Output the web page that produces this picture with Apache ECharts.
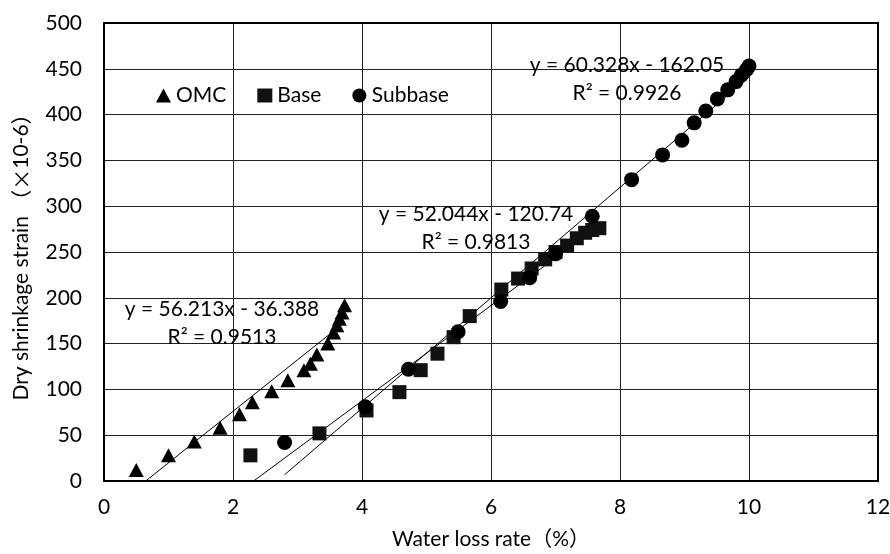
<!DOCTYPE html>
<html>
<head>
<meta charset="utf-8">
<title>Dry shrinkage strain vs water loss rate</title>
<script src="https://cdn.jsdelivr.net/npm/echarts@6/dist/echarts.min.js"></script>
<style>
  html, body { margin: 0; padding: 0; background: #fff; }
  #chart { width: 890px; height: 554px; }
</style>
</head>
<body>
<div id="chart"></div>
<script>
// water loss rate (%) / dry shrinkage strain (x10-6)
var omcX = [0.5, 1.0, 1.4, 1.8, 2.1, 2.3, 2.6, 2.85, 3.1, 3.2, 3.3, 3.47, 3.56, 3.61, 3.65, 3.69, 3.73];
var omcY = [12, 28, 43, 58, 73, 86, 98, 110, 121, 128, 138, 150, 162, 170, 177, 184, 192];

var baseX = [2.27, 3.34, 4.07, 4.58, 4.91, 5.17, 5.42, 5.67, 6.16, 6.42, 6.63, 6.84, 7.0, 7.18, 7.33, 7.46, 7.57, 7.68];
var baseY = [28, 52, 77, 97, 121, 139, 157, 180, 209, 221, 232, 242, 250, 257, 265, 271, 274, 276];

var subX = [2.8, 4.05, 4.72, 5.49, 6.15, 6.6, 7.0, 7.57, 8.18, 8.66, 8.96, 9.15, 9.33, 9.51, 9.67, 9.8, 9.88, 9.96, 10.0];
var subY = [42, 81, 122, 163, 196, 222, 248, 289, 329, 356, 372, 391, 404, 417, 427, 436, 443, 449, 453];

// linear trendline end points (from the equations shown)
var omcFit = [[0.647, 0], [3.73, 173.3]];
var baseFit = [[2.32, 0], [7.68, 279.0]];
var subFit = [[2.8, 6.9], [10.0, 441.2]];

var fitLabels = [
    ['y = 56.213x - 36.388', 'R² = 0.9513'],
    ['y = 52.044x - 120.74', 'R² = 0.9813'],
    ['y = 60.328x - 162.05', 'R² = 0.9926']
];

var xTicks = [0, 12, 2];
var yTicks = [0, 500, 50];

function pairs(xs, ys)
{
    var out = [];
    for (var i = 0; i < xs.length; i++)
    {
        out.push([xs[i], ys[i]]);
    }
    return out;
}

var font = 'Lato, "Noto Sans CJK SC", sans-serif';
var cjk = '"Noto Sans CJK SC", sans-serif';

function fitLine(pts)
{
    return {
        type: 'line',
        data: pts,
        symbol: 'none',
        silent: true,
        lineStyle: {color: '#000', width: 1},
        z: 1
    };
}

function fitText(lines, cx, cy)
{
    return [
        {type: 'text', x: cx, y: cy, style: {text: lines[0], font: '21px ' + font, fill: '#000', align: 'center', verticalAlign: 'middle'}, z: 10},
        {type: 'text', x: cx, y: cy + 28, style: {text: lines[1], font: '21px ' + font, fill: '#000', align: 'center', verticalAlign: 'middle'}, z: 10}
    ];
}

var myChart = echarts.init(document.getElementById('chart'));
var option = {
    backgroundColor: '#fff',
    animation: false,
    textStyle: {fontFamily: font},
    grid: {left: 104, top: 23, right: 12, bottom: 73, outerBoundsMode: 'none', containLabel: false},
    legend: {
        left: 151,
        top: 80,
        itemWidth: 15,
        itemHeight: 14,
        itemGap: 31,
        textStyle: {fontSize: 21, color: '#000', fontFamily: font},
        data: ['OMC', 'Base', 'Subbase']
    },
    xAxis: {
        type: 'value',
        min: xTicks[0],
        max: xTicks[1],
        interval: xTicks[2],
        name: 'Water loss rate（%）',
        nameLocation: 'middle',
        nameGap: 48,
        nameTextStyle: {fontSize: 21, color: '#000', fontFamily: font},
        axisLine: {show: true, lineStyle: {color: '#000', width: 2}},
        axisTick: {show: false},
        axisLabel: {fontSize: 21, color: '#000', margin: 16, fontFamily: font},
        splitLine: {show: true, lineStyle: {color: '#222', width: 1}}
    },
    yAxis: {
        type: 'value',
        min: yTicks[0],
        max: yTicks[1],
        interval: yTicks[2],
        name: '{a|Dry shrinkage strain }{b|（×}{a|10-6}{b|）}',
        nameLocation: 'middle',
        nameGap: 72,
        nameTextStyle: {
            fontSize: 21, color: '#000', fontFamily: font,
            rich: {
                a: {fontSize: 21, color: '#000', fontFamily: font},
                b: {fontSize: 21, color: '#000', fontFamily: cjk}
            }
        },
        axisLine: {show: true, lineStyle: {color: '#000', width: 2}},
        axisTick: {show: false},
        axisLabel: {fontSize: 21, color: '#000', margin: 22, fontFamily: font},
        splitLine: {show: true, lineStyle: {color: '#222', width: 1}}
    },
    graphic: [
        {type: 'rect', shape: {x: 104, y: 23, width: 774, height: 458}, style: {fill: 'none', stroke: '#000', lineWidth: 2}, silent: true, z: 5}
    ].concat(fitText(fitLabels[0], 222, 309))
        .concat(fitText(fitLabels[1], 476, 214))
        .concat(fitText(fitLabels[2], 627, 65)),
    series: [
        fitLine(omcFit),
        fitLine(baseFit),
        fitLine(subFit),
        {
            name: 'OMC',
            type: 'scatter',
            symbol: 'triangle',
            symbolSize: [15, 14],
            itemStyle: {color: '#000', opacity: 1},
            data: pairs(omcX, omcY),
            z: 3
        },
        {
            name: 'Base',
            type: 'scatter',
            symbol: 'rect',
            symbolSize: 14,
            itemStyle: {color: '#111', opacity: 1},
            data: pairs(baseX, baseY),
            z: 3
        },
        {
            name: 'Subbase',
            type: 'scatter',
            symbol: 'circle',
            symbolSize: 15,
            itemStyle: {color: '#000', opacity: 1},
            data: pairs(subX, subY),
            z: 3
        }
    ]
};
myChart.setOption(option);
</script>
</body>
</html>
